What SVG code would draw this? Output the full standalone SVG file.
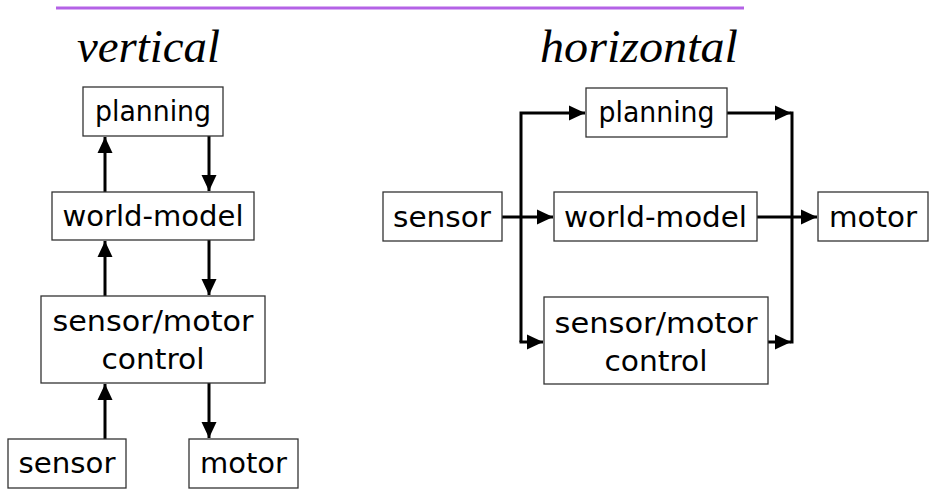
<svg xmlns="http://www.w3.org/2000/svg" width="932" height="491" viewBox="0 0 932 491">
<defs>
<marker id="ah" markerWidth="16" markerHeight="16" viewBox="0 0 16 16" refX="16" refY="8" orient="auto" markerUnits="userSpaceOnUse">
<path d="M0,0.5 L16,8 L0,15.5 Z" fill="#000"/>
</marker>
<style>
.box{fill:#fff;stroke:#333;stroke-width:1.3}
.lbl{font-family:"DejaVu Sans","Open Sans",sans-serif;font-size:28px;fill:#000;text-anchor:middle}
.ttl{font-family:"Liberation Serif","Times New Roman",serif;font-style:italic;font-size:47px;fill:#000}
.c{fill:none;stroke:#000;stroke-width:3}
.ca{fill:none;stroke:#000;stroke-width:3;marker-end:url(#ah)}
</style>
</defs>
<rect x="0" y="0" width="932" height="491" fill="#fff"/>
<line x1="56" y1="8" x2="744" y2="8" stroke="#b462e6" stroke-width="3"/>
<text class="ttl" x="77" y="62" textLength="143" lengthAdjust="spacingAndGlyphs">vertical</text>
<text class="ttl" x="540" y="62" textLength="198" lengthAdjust="spacingAndGlyphs">horizontal</text>

<g id="connectors">
<line class="ca" x1="105" y1="192" x2="105" y2="137"/>
<line class="ca" x1="209" y1="136" x2="209" y2="191"/>
<line class="ca" x1="105" y1="296" x2="105" y2="241"/>
<line class="ca" x1="209" y1="240" x2="209" y2="295"/>
<line class="ca" x1="105" y1="439" x2="105" y2="384"/>
<line class="ca" x1="209" y1="383" x2="209" y2="438"/>

<polyline class="ca" points="521,342 521,113 585,113"/>
<line class="ca" x1="519.5" y1="342" x2="543" y2="342"/>
<line class="ca" x1="502" y1="217" x2="553" y2="217"/>
<line class="ca" x1="727" y1="113" x2="791" y2="113"/>
<line class="c" x1="792" y1="111.5" x2="792" y2="343.5"/>
<line class="ca" x1="768" y1="342" x2="791" y2="342"/>
<line class="ca" x1="757" y1="217" x2="817" y2="217"/>
</g>

<g id="v-planning"><rect class="box" x="83" y="87" width="140" height="49"/><text class="lbl" x="153" y="121" textLength="116" lengthAdjust="spacingAndGlyphs">planning</text></g>
<g id="v-world-model"><rect class="box" x="52" y="192" width="202" height="48"/><text class="lbl" x="153" y="226" textLength="181" lengthAdjust="spacingAndGlyphs">world-model</text></g>
<g id="v-smc"><rect class="box" x="41" y="296" width="224" height="87"/><text class="lbl" x="153" y="331" textLength="201" lengthAdjust="spacingAndGlyphs">sensor/motor</text><text class="lbl" x="153" y="369" textLength="103" lengthAdjust="spacingAndGlyphs">control</text></g>
<g id="v-sensor"><rect class="box" x="8" y="439" width="118" height="49"/><text class="lbl" x="67" y="473" textLength="97" lengthAdjust="spacingAndGlyphs">sensor</text></g>
<g id="v-motor"><rect class="box" x="189" y="439" width="109" height="49"/><text class="lbl" x="243.5" y="473" textLength="87" lengthAdjust="spacingAndGlyphs">motor</text></g>

<g id="h-sensor"><rect class="box" x="383" y="192" width="119" height="49"/><text class="lbl" x="442" y="227" textLength="98" lengthAdjust="spacingAndGlyphs">sensor</text></g>
<g id="h-planning"><rect class="box" x="586" y="88" width="141" height="49"/><text class="lbl" x="656.5" y="122" textLength="116" lengthAdjust="spacingAndGlyphs">planning</text></g>
<g id="h-world-model"><rect class="box" x="554" y="192" width="203" height="49"/><text class="lbl" x="655.5" y="227" textLength="183" lengthAdjust="spacingAndGlyphs">world-model</text></g>
<g id="h-motor"><rect class="box" x="818" y="192" width="110" height="49"/><text class="lbl" x="873" y="227" textLength="88" lengthAdjust="spacingAndGlyphs">motor</text></g>
<g id="h-smc"><rect class="box" x="544" y="297" width="224" height="87"/><text class="lbl" x="656" y="333" textLength="203" lengthAdjust="spacingAndGlyphs">sensor/motor</text><text class="lbl" x="656" y="371" textLength="103" lengthAdjust="spacingAndGlyphs">control</text></g>
</svg>
